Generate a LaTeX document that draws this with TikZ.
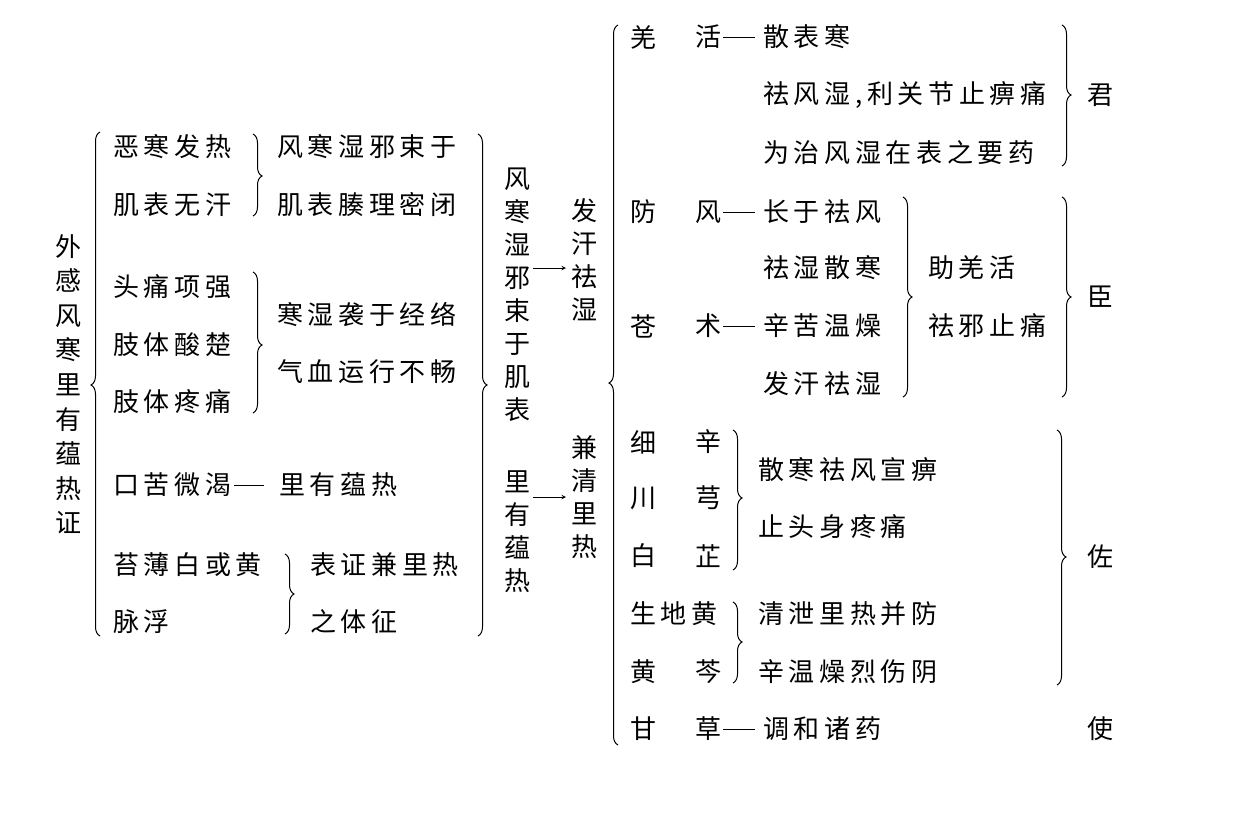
\documentclass[tikz,border=0pt]{standalone}
\usepackage{fontspec}
\newfontfamily\cjk[LetterSpace=18]{Noto Sans CJK SC}
\usetikzlibrary{decorations.pathreplacing}
\newcommand\brL[4]{\pgfmathsetmacro\asp{(#3-#4)/(#3-#2)}\draw[brc,decoration={brace,amplitude=9pt,aspect=\asp}] (#1,#3) -- (#1,#2);}
\newcommand\brR[4]{\pgfmathsetmacro\asp{(#4-#2)/(#3-#2)}\draw[brc,decoration={brace,amplitude=9pt,aspect=\asp}] (#1,#2) -- (#1,#3);}
\newcommand\T[4]{\node[txt] (#1) at (#2,#3) {#4};}
\begin{document}
\begin{tikzpicture}[x=1pt,y=-1pt,
  txt/.style={anchor=west,inner sep=0pt,font=\cjk\fontsize{26}{26}\selectfont},
  vtxt/.style={anchor=north,inner sep=0pt,align=center,font=\cjk\fontsize{26}{33}\selectfont},
  brc/.style={decorate,line width=1pt},
  dsh/.style={line width=1pt},
  arr/.style={->,line width=1pt,>=stealth}]
\useasboundingbox (0,0) rectangle (1240,828);
% left column
\node[vtxt,font=\cjk\fontsize{26}{34.6}\selectfont] (main) at (68,234) {外\\感\\风\\寒\\里\\有\\蕴\\热\\证};
\brL{100}{132}{636}{385}
\T{a1}{113}{147}{恶寒发热}
\T{a2}{113}{205}{肌表无汗}
\T{a3}{113}{287}{头痛项强}
\T{a4}{113}{345}{肢体酸楚}
\T{a5}{113}{402}{肢体疼痛}
\T{a6}{113}{485}{口苦微渴}
\T{a6b}{279}{485}{里有蕴热}
\draw[dsh] (a6.east) ++(3,0) -- ++(30,0);
\T{a7}{113}{565}{苔薄白或黄}
\T{a8}{113}{622}{脉浮}
\brR{253}{134}{216}{176}
\T{b1}{277}{147}{风寒湿邪束于}
\T{b2}{277}{205}{肌表腠理密闭}
\brR{253}{272}{413}{345}
\T{b3}{277}{315}{寒湿袭于经络}
\T{b4}{277}{372}{气血运行不畅}
\brR{285}{554}{634}{594}
\T{b5}{310}{565}{表证兼里热}
\T{b6}{310}{622}{之体征}
\brR{478}{134}{636}{385}
\node[vtxt] (c1) at (517,168) {风\\寒\\湿\\邪\\束\\于\\肌\\表};
\node[vtxt] (c2) at (517,470) {里\\有\\蕴\\热};
\node[vtxt] (d1) at (584,198) {发\\汗\\祛\\湿};
\node[vtxt] (d2) at (584,435) {兼\\清\\里\\热};
\coordinate (p1) at (533,268); \coordinate (q1) at (566,268);
\coordinate (p2) at (533,497); \coordinate (q2) at (566,497);
\draw[arr] (p1) -- (q1);
\draw[arr] (p2) -- (q2);
% right part
\brL{618}{25}{745}{383}
\T{e1}{630}{37}{羌}\T{e1b}{695}{37}{活}\T{e1c}{763}{37}{散表寒}
\T{e2}{763}{95}{祛风湿,利关节止痹痛}
\T{e3}{763}{153}{为治风湿在表之要药}
\brR{1062}{25}{166}{95}
\T{f1}{1087}{95}{君}
\T{e4}{630}{212}{防}\T{e4b}{695}{212}{风}\T{e4c}{763}{212}{长于祛风}
\T{e5}{763}{268}{祛湿散寒}
\T{e6}{630}{326}{苍}\T{e6b}{695}{326}{术}\T{e6c}{763}{326}{辛苦温燥}
\T{e7}{763}{384}{发汗祛湿}
\brR{903}{197}{397}{297}
\T{g1}{928}{268}{助羌活}
\T{g2}{928}{326}{祛邪止痛}
\brR{1062}{197}{397}{297}
\T{f2}{1087}{297}{臣}
\T{h1}{630}{442}{细}\T{h1b}{695}{442}{辛}
\T{h2}{630}{498}{川}\T{h2b}{695}{498}{芎}
\T{h3}{630}{556}{白}\T{h3b}{695}{556}{芷}
\brR{733}{430}{570}{498}
\T{i1}{758}{470}{散寒祛风宣痹}
\T{i2}{758}{527}{止头身疼痛}
\T{h4}{630}{614}{生地黄}
\T{h5}{630}{672}{黄}\T{h5b}{695}{672}{芩}
\brR{733}{602}{683}{642}
\T{i3}{758}{614}{清泄里热并防}
\T{i4}{758}{672}{辛温燥烈伤阴}
\brR{1057}{430}{685}{557}
\T{f3}{1087}{557}{佐}
\T{h6}{630}{729}{甘}\T{h6b}{695}{729}{草}\T{h6c}{763}{729}{调和诸药}
\T{f4}{1087}{729}{使}
\foreach \n in {e1b,e4b,e6b,h6b}{\draw[dsh] (\n.east) ++(2,0) -- ++(32,0);}
\end{tikzpicture}
\end{document}
